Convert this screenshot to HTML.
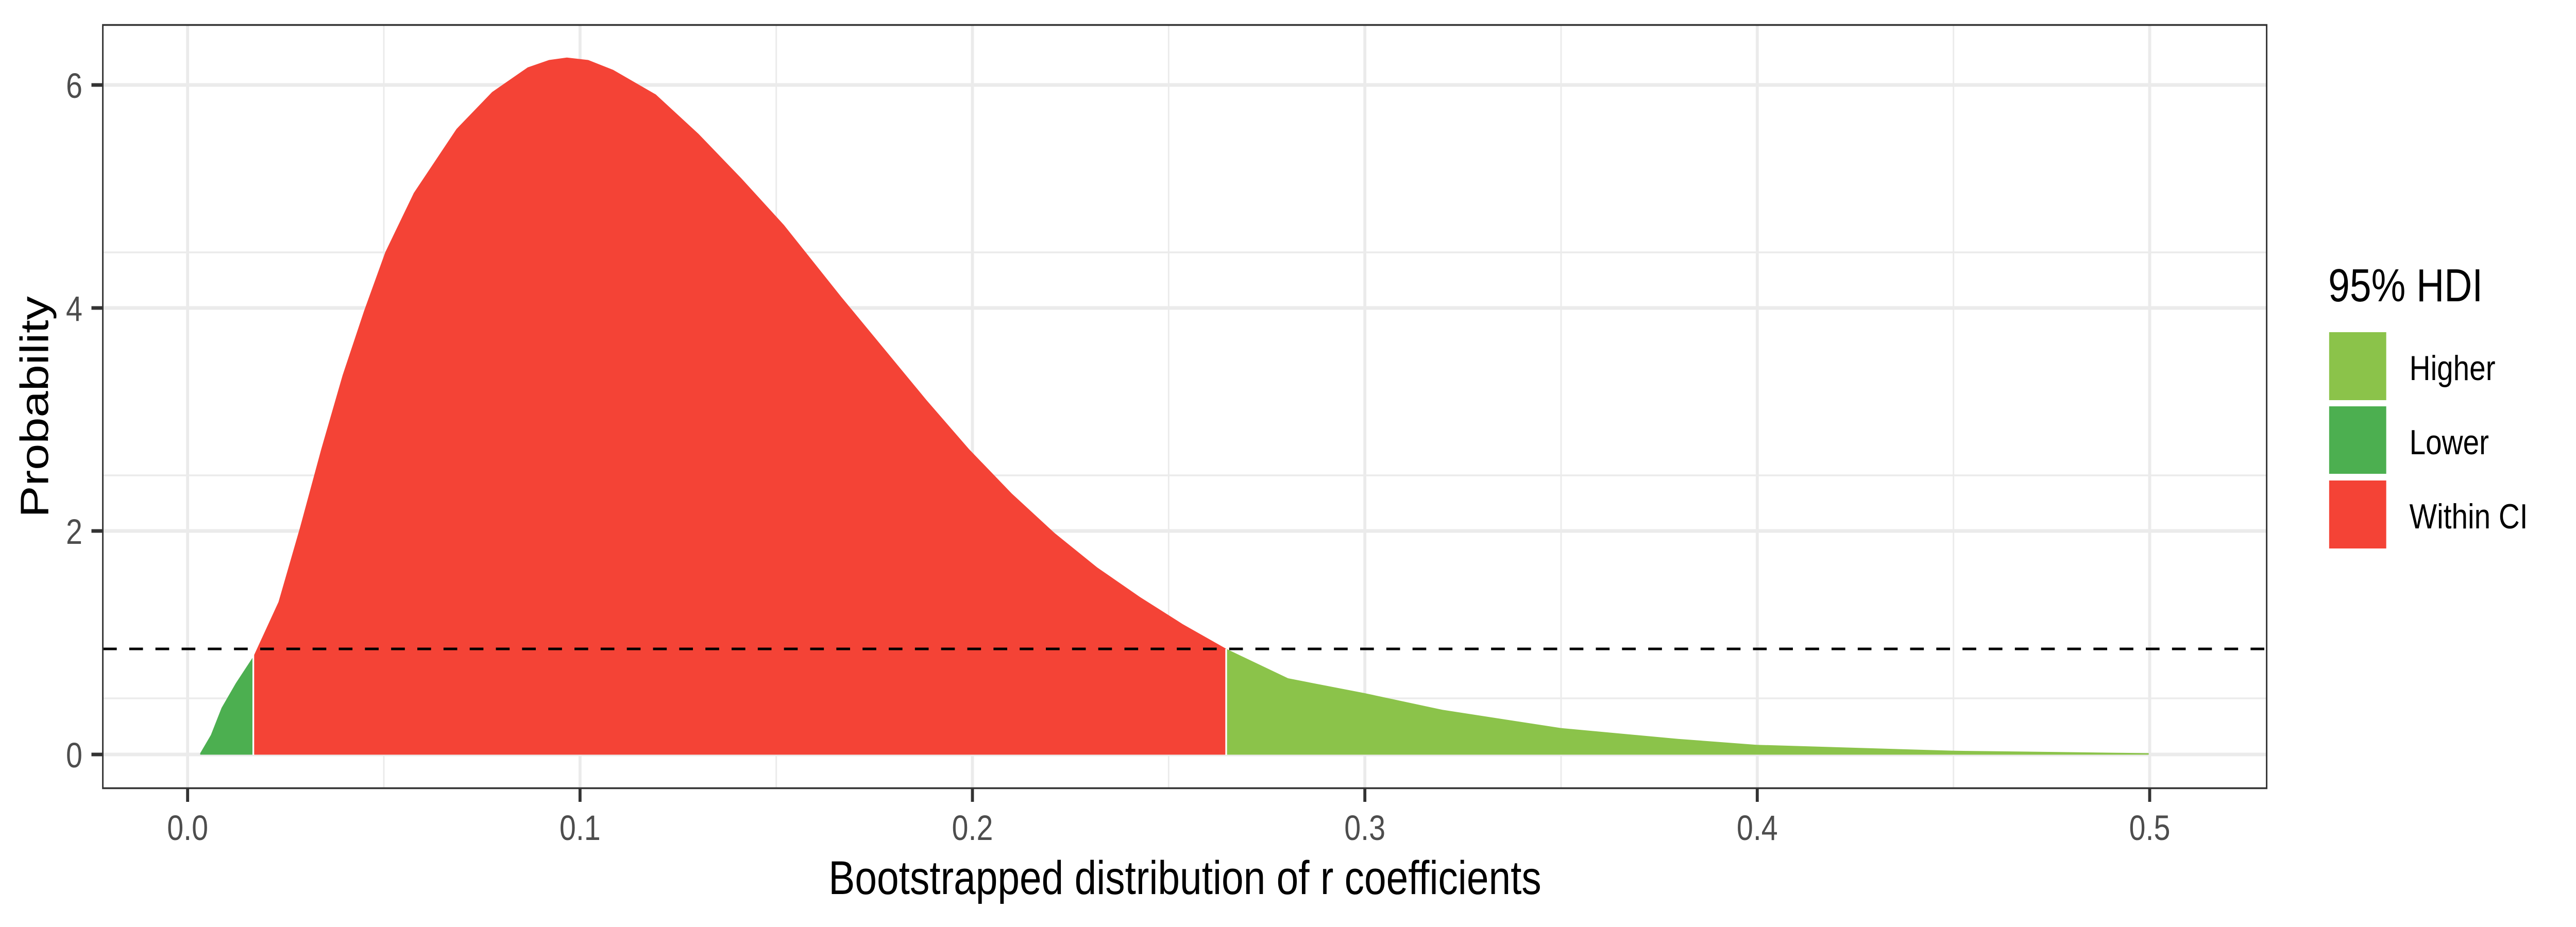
<!DOCTYPE html>
<html><head><meta charset="utf-8"><style>
html,body{margin:0;padding:0;background:#fff;width:100%;height:100%;overflow:hidden}
svg{display:block;width:100vw;height:100vh}
text{font-family:"Liberation Sans",Arial,sans-serif}
</style></head><body>
<svg viewBox="0 0 6000 1800" preserveAspectRatio="none" xmlns="http://www.w3.org/2000/svg">
<rect width="6000" height="1800" fill="#fff"/>
<g stroke="#ebebeb" stroke-width="3.5">
<line x1="238" x2="5281" y1="1356" y2="1356"/>
<line x1="238" x2="5281" y1="923" y2="923"/>
<line x1="238" x2="5281" y1="490" y2="490"/>
<line x1="894" x2="894" y1="47" y2="1532"/>
<line x1="1808" x2="1808" y1="47" y2="1532"/>
<line x1="2722" x2="2722" y1="47" y2="1532"/>
<line x1="3636" x2="3636" y1="47" y2="1532"/>
<line x1="4550" x2="4550" y1="47" y2="1532"/>
</g>
<g stroke="#ebebeb" stroke-width="7">
<line x1="238" x2="5281" y1="1465" y2="1465"/>
<line x1="238" x2="5281" y1="1031" y2="1031"/>
<line x1="238" x2="5281" y1="598" y2="598"/>
<line x1="238" x2="5281" y1="165" y2="165"/>
<line x1="437" x2="437" y1="47" y2="1532"/>
<line x1="1351" x2="1351" y1="47" y2="1532"/>
<line x1="2265" x2="2265" y1="47" y2="1532"/>
<line x1="3179" x2="3179" y1="47" y2="1532"/>
<line x1="4093" x2="4093" y1="47" y2="1532"/>
<line x1="5007" x2="5007" y1="47" y2="1532"/>
</g>
<g transform="translate(400,40) scale(1.6582,0.9566)">
<path fill="#4CAF50" d="M40,1490 L40,1487 L55,1450 L70,1395 L90,1345 L115,1290 L115,1490 Z"/>
<path fill="#F44336" d="M115,1490 L115,1290 L150,1180 L180,1030 L210,870 L240,720 L270,590 L300,470 L340,350 L400,220 L450,145 L500,95 L530,80 L555,75 L585,80 L620,100 L680,150 L740,230 L800,320 L860,415 L940,560 L1000,665 L1060,770 L1120,870 L1180,960 L1240,1040 L1300,1110 L1360,1170 L1420,1225 L1481,1275 L1481,1490 Z"/>
<path fill="#8BC34A" d="M1481,1490 L1481,1275 L1568,1335 L1675,1365 L1785,1399 L1951,1436 L2116,1458 L2226,1470 L2501,1482 L2777,1487 L2777,1490 Z"/>
</g>
<g stroke="#fff" stroke-width="4">
<line x1="590" x2="590" y1="1255" y2="1466"/>
<line x1="2856" x2="2856" y1="1260" y2="1466"/>
</g>
<line x1="240" x2="5279" y1="1260" y2="1260" stroke="#000" stroke-width="5" stroke-dasharray="32,29"/>
<rect x="239.5" y="48.5" width="5040" height="1482" fill="none" stroke="#333" stroke-width="3.5"/>
<g stroke="#333" stroke-width="7">
<line x1="213" x2="238" y1="1465" y2="1465"/>
<line x1="213" x2="238" y1="1031" y2="1031"/>
<line x1="213" x2="238" y1="598" y2="598"/>
<line x1="213" x2="238" y1="165" y2="165"/>
<line x1="437" x2="437" y1="1532" y2="1557"/>
<line x1="1351" x2="1351" y1="1532" y2="1557"/>
<line x1="2265" x2="2265" y1="1532" y2="1557"/>
<line x1="3179" x2="3179" y1="1532" y2="1557"/>
<line x1="4093" x2="4093" y1="1532" y2="1557"/>
<line x1="5007" x2="5007" y1="1532" y2="1557"/>
</g>
<g fill="#4d4d4d" font-size="69" text-anchor="end">
<text x="192" y="1490">0</text>
<text x="192" y="1056">2</text>
<text x="192" y="623">4</text>
<text x="192" y="190">6</text>
</g>
<g fill="#4d4d4d" font-size="69" text-anchor="middle">
<text x="437" y="1631">0.0</text>
<text x="1351" y="1631">0.1</text>
<text x="2265" y="1631">0.2</text>
<text x="3179" y="1631">0.3</text>
<text x="4093" y="1631">0.4</text>
<text x="5007" y="1631">0.5</text>
</g>
<text x="2760" y="1736" font-size="92" text-anchor="middle" fill="#000">Bootstrapped distribution of r coefficients</text>
<text transform="translate(112,790) rotate(-90)" font-size="92" text-anchor="middle" fill="#000">Probability</text>
<text x="5423" y="585" font-size="90" fill="#000">95% HDI</text>
<rect x="5425" y="645" width="133" height="132" fill="#8BC34A"/>
<rect x="5425" y="789" width="133" height="131" fill="#4CAF50"/>
<rect x="5425" y="933" width="133" height="132" fill="#F44336"/>
<g font-size="68" fill="#000">
<text x="5612" y="738">Higher</text>
<text x="5612" y="882">Lower</text>
<text x="5612" y="1026">Within CI</text>
</g>
</svg>
</body></html>
